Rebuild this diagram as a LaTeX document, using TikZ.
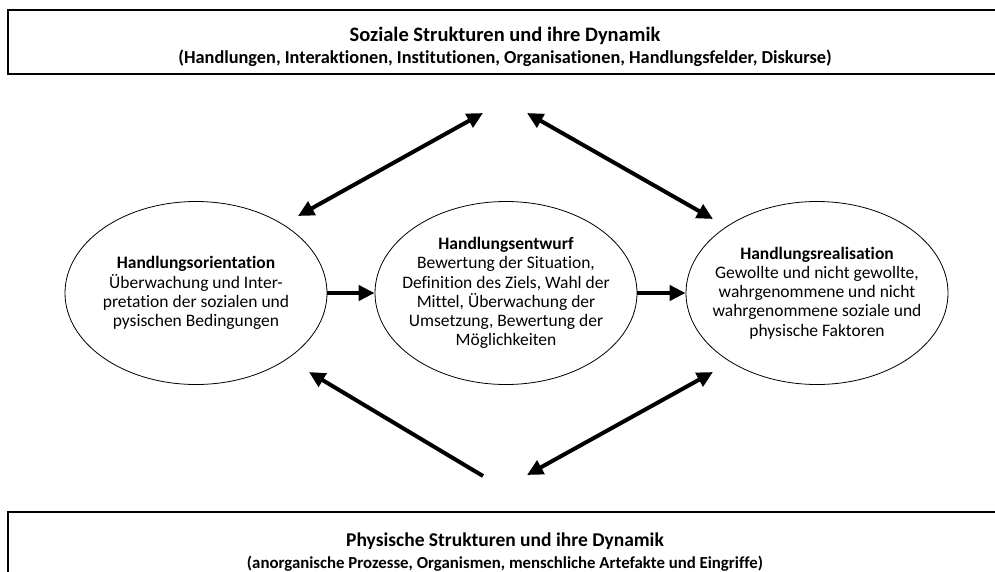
\documentclass[tikz,border=0pt]{standalone}
\usepackage{fontspec}
\setmainfont{Carlito}[Ligatures=CommonOff]
\usetikzlibrary{arrows.meta,shapes.geometric}

\begin{document}
\begin{tikzpicture}[x=1pt, y=-1pt,
  box/.style={draw=black, line width=1.2pt, align=center, minimum width=994pt, inner ysep=2pt, font=\bfseries\fontsize{18.3}{22}\selectfont},
  ell/.style={draw=black, ellipse, line width=0.8pt, align=center, inner xsep=-30pt, inner ysep=0pt, minimum width=262pt, minimum height=183pt, font=\fontsize{17.5}{19.2}\selectfont},
  arr/.style={-{Triangle[length=16pt,width=15pt]}, line width=4pt},
  darr/.style={{Triangle[length=16pt,width=15pt]}-{Triangle[length=16pt,width=15pt]}, line width=4pt}]

\useasboundingbox (0,0) rectangle (995,571);

\node[box, minimum height=64pt] at (505,42) (soz)
  {\rule{0pt}{25pt}{\fontsize{20.5}{22}\selectfont Soziale Strukturen und ihre Dynamik}\\(Handlungen, Interaktionen, Institutionen, Organisationen, Handlungsfelder, Diskurse)};

\node[box, minimum height=80pt] at (505,552) (phy)
  {\rule{0pt}{14pt}{\fontsize{19.5}{22}\selectfont Physische Strukturen und ihre Dynamik}\\{\fontsize{16.8}{22}\selectfont (anorganische Prozesse, Organismen, menschliche Artefakte und Eingriffe)}};

\node[ell] at (196,293) (ori)
  {\textbf{Handlungsorientation}\\Überwachung und Inter-\\pretation der sozialen und\\pysischen Bedingungen};

\node[ell] at (506,293) (ent)
  {\textbf{Handlungsentwurf}\\Bewertung der Situation,\\Definition des Ziels, Wahl der\\Mittel, Überwachung der\\Umsetzung, Bewertung der\\Möglichkeiten};

\node[ell] at (817,293) (real)
  {\textbf{Handlungsrealisation}\\Gewollte und nicht gewollte,\\wahrgenommene und nicht\\wahrgenommene soziale und\\physische Faktoren};

% free ends of the diagonal arrows
\coordinate (sozL) at (483,113);
\coordinate (sozR) at (527,113);
\coordinate (phyL) at (483,476);
\coordinate (phyR) at (527,475);
\coordinate (oriN) at (298,216);
\coordinate (oriS) at (309,372);
\coordinate (realN) at (713,219);
\coordinate (realS) at (713,372);

\draw[arr] (ori) -- (ent);
\draw[arr] (ent) -- (real);
\draw[darr] (oriN) -- (sozL); \draw[darr] (sozR) -- (realN);
\draw[arr] (phyL) -- (oriS); \draw[darr] (phyR) -- (realS);
\end{tikzpicture}
\end{document}
